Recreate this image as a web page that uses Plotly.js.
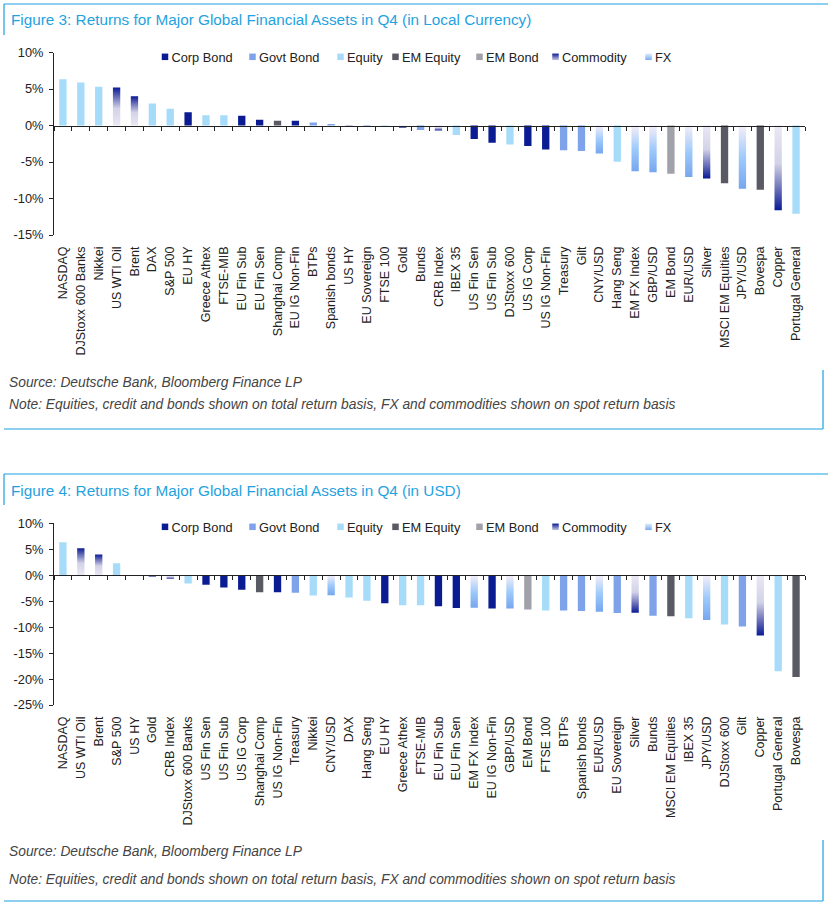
<!DOCTYPE html>
<html><head><meta charset="utf-8">
<script src="https://cdn.plot.ly/plotly-3.0.1.min.js"></script>
<style>html,body{margin:0;padding:0;background:#fff;}#chart{width:828px;height:909px;}</style>
</head><body><div id="chart"></div>
<script>
// ---------- DATA ----------
const assetClasses = ['Corp Bond','Govt Bond','Equity','EM Equity','EM Bond','Commodity','FX'];

const categoriesLocal = ['NASDAQ','DJStoxx 600 Banks','Nikkei','US WTI Oil','Brent','DAX','S&P 500','EU HY','Greece Athex','FTSE-MIB','EU Fin Sub','EU Fin Sen','Shanghai Comp','EU IG Non-Fin','BTPs','Spanish bonds','US HY','EU Sovereign','FTSE 100','Gold','Bunds','CRB Index','IBEX 35','US Fin Sen','US Fin Sub','DJStoxx 600','US IG Corp','US IG Non-Fin','Treasury','Gilt','CNY/USD','Hang Seng','EM FX Index','GBP/USD','EM Bond','EUR/USD','Silver','MSCI EM Equities','JPY/USD','Bovespa','Copper','Portugal General'];
const valuesLocal = [6.35,5.9,5.3,5.2,4.0,3.0,2.3,1.8,1.4,1.4,1.35,0.8,0.65,0.65,0.4,0.2,0.05,-0.1,-0.15,-0.35,-0.6,-0.7,-1.3,-1.85,-2.35,-2.6,-2.8,-3.3,-3.4,-3.5,-3.85,-4.95,-6.25,-6.4,-6.6,-7.05,-7.25,-7.9,-8.65,-8.8,-11.6,-12.1];
const classesLocal = ['Equity','Equity','Equity','Commodity','Commodity','Equity','Equity','Corp Bond','Equity','Equity','Corp Bond','Corp Bond','EM Equity','Corp Bond','Govt Bond','Govt Bond','Corp Bond','Govt Bond','Equity','Commodity','Govt Bond','Commodity','Equity','Corp Bond','Corp Bond','Equity','Corp Bond','Corp Bond','Govt Bond','Govt Bond','FX','Equity','FX','FX','EM Bond','FX','Commodity','EM Equity','FX','EM Equity','Commodity','Equity'];

const categoriesUSD = ['NASDAQ','US WTI Oil','Brent','S&P 500','US HY','Gold','CRB Index','DJStoxx 600 Banks','US Fin Sen','US Fin Sub','US IG Corp','Shanghai Comp','US IG Non-Fin','Treasury','Nikkei','CNY/USD','DAX','Hang Seng','EU HY','Greece Athex','FTSE-MIB','EU Fin Sub','EU Fin Sen','EM FX Index','EU IG Non-Fin','GBP/USD','EM Bond','FTSE 100','BTPs','Spanish bonds','EUR/USD','EU Sovereign','Silver','Bunds','MSCI EM Equities','IBEX 35','JPY/USD','DJStoxx 600','Gilt','Copper','Portugal General','Bovespa'];
const valuesUSD = [6.35,5.2,4.0,2.3,0.05,-0.35,-0.7,-1.6,-1.85,-2.35,-2.8,-3.3,-3.3,-3.4,-3.9,-3.85,-4.3,-4.9,-5.4,-5.8,-5.8,-6.0,-6.3,-6.25,-6.4,-6.4,-6.6,-6.8,-6.8,-6.9,-7.05,-7.3,-7.25,-7.8,-7.9,-8.3,-8.65,-9.5,-9.9,-11.6,-18.5,-19.6];
const classesUSD = ['Equity','Commodity','Commodity','Equity','Corp Bond','Commodity','Commodity','Equity','Corp Bond','Corp Bond','Corp Bond','EM Equity','Corp Bond','Govt Bond','Equity','FX','Equity','Equity','Corp Bond','Equity','Equity','Corp Bond','Corp Bond','FX','Corp Bond','FX','EM Bond','Equity','Govt Bond','Govt Bond','FX','Govt Bond','Commodity','Govt Bond','EM Equity','Equity','FX','Equity','Govt Bond','Commodity','Equity','EM Equity'];

const yTickValsLocal = [-15,-10,-5,0,5,10];
const yTickTextLocal = ['-15%','-10%','-5%','0%','5%','10%'];
const yTickValsUSD = [-25,-20,-15,-10,-5,0,5,10];
const yTickTextUSD = ['-25%','-20%','-15%','-10%','-5%','0%','5%','10%'];

const titleLocal = 'Figure 3: Returns for Major Global Financial Assets in Q4 (in Local Currency)';
const titleUSD = 'Figure 4: Returns for Major Global Financial Assets in Q4 (in USD)';
const sourceText = 'Source: Deutsche Bank, Bloomberg Finance LP';
const noteText = 'Note: Equities, credit and bonds shown on total return basis, FX and commodities shown on spot return basis';

// ---------- STYLE ----------
const classColors = {
  'Corp Bond':'#0b1c93','Govt Bond':'#7ea3ea','Equity':'#a6dcf9',
  'EM Equity':'#5a5a64','EM Bond':'#a1a1a9','Commodity':'#2a3aa4','FX':'#86b8f6'
};
const gradStops = {
  'Commodity':[[0,'#ebe8f4'],[0.45,'#d2d2e8'],[0.75,'#6a70b8'],[1,'#0a1a96']],
  'FX':[[0,'#f6eef8'],[0.5,'#9fcbfb'],[1,'#76a6ee']]
};
const legendKeyPx = [165, 252.5, 340.5, 395.5, 479.5, 555.5, 648.5]; // legend key centres (px)
const legendTextGap = 6.5;
const W = 828, H = 909;
const fx = px => px / W;
const fy = py => 1 - py / H;
const FONT = 'Liberation Sans, Arial, sans-serif';
const AX = '#222';
const BOX = '#1aa0e0';

const data = [];
function addChart(cats, vals, classes, xa, xa2, ya, legendId) {
  const xName = xa.replace('axis',''), x2Name = xa2.replace('axis',''), yName = ya.replace('axis','');
  assetClasses.forEach(cls => {
    const xs = [], ys = [];
    cats.forEach((c, i) => { if (classes[i] === cls) { xs.push(c); ys.push(vals[i]); } });
    data.push({type:'bar', name:cls, x:xs, y:ys, xaxis:xName, yaxis:yName, width:0.41,
      marker:{color:classColors[cls], line:{width:0}}, showlegend:false, hoverinfo:'skip'});
  });
  data.push({type:'bar', x:cats, y:cats.map(() => null), xaxis:x2Name, yaxis:yName, showlegend:false, hoverinfo:'skip'});
  assetClasses.forEach(cls => {
    const m = {symbol:'square', size:6.5, color:classColors[cls], line:{width:0}};
    if (cls === 'Commodity') { m.color = '#0a1a96'; m.gradient = {type:'vertical', color:'#c4c4e2'}; }
    if (cls === 'FX') { m.color = '#dcecfc'; m.gradient = {type:'vertical', color:'#78aaf2'}; }
    data.push({type:'scatter', mode:'markers', name:cls, x:[cats[0]], y:[null], xaxis:xName, yaxis:yName,
      marker:m, legend:legendId, showlegend:true, hoverinfo:'skip'});
  });
}
addChart(categoriesLocal, valuesLocal, classesLocal, 'xaxis', 'xaxis2', 'yaxis', 'legend');
addChart(categoriesUSD, valuesUSD, classesUSD, 'xaxis3', 'xaxis4', 'yaxis2', 'legend2');

function zeroPos(dom, rng) { return dom[0] + (dom[1] - dom[0]) * (0 - rng[0]) / (rng[1] - rng[0]); }

const dom1 = [fy(235), fy(52.5)], rng1 = [-15, 10];
const dom2 = [fy(705), fy(523.3)], rng2 = [-25, 10];
const xdom = [fx(54), fx(805)];

function labelAxis(cats, yId) {
  return {domain:xdom, anchor:yId, type:'category', categoryorder:'array', categoryarray:cats,
    range:[-0.5, cats.length - 0.5], tickangle:-90, ticks:'', showline:false, showgrid:false, zeroline:false,
    tickfont:{family:FONT, size:12.5, color:AX}, ticklabelstandoff:8, fixedrange:true};
}
function zeroAxis(cats, base, pos) {
  return {overlaying:base, anchor:'free', position:pos, type:'category', categoryorder:'array', categoryarray:cats,
    range:[-0.5, cats.length - 0.5], showline:true, linecolor:AX, linewidth:1, ticks:'outside', tickson:'boundaries',
    ticklen:4, tickwidth:1, tickcolor:AX, showticklabels:false, showgrid:false, zeroline:false, fixedrange:true};
}
function valueAxis(dom, rng, tv, tt, xId) {
  return {domain:dom, anchor:xId, range:rng, tickvals:tv, ticktext:tt, showline:true, linecolor:AX, linewidth:1,
    ticks:'outside', ticklen:4, tickcolor:AX, showgrid:false, zeroline:false,
    tickfont:{family:FONT, size:12.8, color:AX}, ticklabelstandoff:3, fixedrange:true};
}
function legendObj(ytop) {
  return {orientation:'h', x:fx(152), y:fy(ytop), xanchor:'left', yanchor:'top', bgcolor:'rgba(0,0,0,0)',
    font:{family:FONT, size:12.8, color:AX}, itemwidth:30, traceorder:'normal', tracegroupgap:0};
}

const boxLine = (x0,y0,x1,y1) => ({type:'line', xref:'paper', yref:'paper', x0:fx(x0), y0:fy(y0), x1:fx(x1), y1:fy(y1), line:{color:BOX, width:1.2}});
const shapes = [
  boxLine(4,4,828,4), boxLine(4,4,4,35), boxLine(4,429,823,429), boxLine(823,370,823,429),
  boxLine(4,474,828,474), boxLine(4,474,4,505), boxLine(4,901,823,901), boxLine(823,840,823,901)
];
const ann = (text, x, y, size, color, italic) => ({text: italic ? '<i>' + text + '</i>' : text, xref:'paper', yref:'paper',
  x:fx(x), y:fy(y), xanchor:'left', yanchor:'middle', showarrow:false, font:{family:FONT, size:size, color:color}});
const annotations = [
  ann(titleLocal, 9, 20, 15.3, '#1fa2df', false),
  ann(sourceText, 7, 382, 13.8, '#444', true),
  ann(noteText, 7, 404, 13.8, '#444', true),
  ann(titleUSD, 9, 490, 15.3, '#1fa2df', false),
  ann(sourceText, 7, 851, 13.8, '#444', true),
  ann(noteText, 7, 879, 13.8, '#444', true)
];

const layout = {
  width:W, height:H, margin:{l:0, r:0, t:0, b:0}, paper_bgcolor:'#fff', plot_bgcolor:'rgba(0,0,0,0)',
  font:{family:FONT, color:AX}, barmode:'overlay', showlegend:true,
  xaxis:labelAxis(categoriesLocal, 'y'),
  xaxis2:zeroAxis(categoriesLocal, 'x', zeroPos(dom1, rng1)),
  yaxis:valueAxis(dom1, rng1, yTickValsLocal, yTickTextLocal, 'x'),
  xaxis3:labelAxis(categoriesUSD, 'y2'),
  xaxis4:zeroAxis(categoriesUSD, 'x3', zeroPos(dom2, rng2)),
  yaxis2:valueAxis(dom2, rng2, yTickValsUSD, yTickTextUSD, 'x3'),
  legend:legendObj(42), legend2:legendObj(512),
  shapes:shapes, annotations:annotations
};

function applyGradients(gd) {
  const NS = 'http://www.w3.org/2000/svg';
  const svg = gd.querySelector('.main-svg');
  let defs = svg.querySelector('defs');
  if (!defs) { defs = document.createElementNS(NS, 'defs'); svg.insertBefore(defs, svg.firstChild); }
  Object.keys(gradStops).forEach(key => {
    ['up','down'].forEach(dir => {
      const id = 'grad-' + key + '-' + dir;
      if (document.getElementById(id)) return;
      const g = document.createElementNS(NS, 'linearGradient');
      g.setAttribute('id', id);
      g.setAttribute('x1','0'); g.setAttribute('x2','0');
      g.setAttribute('y1', dir === 'up' ? '1' : '0'); g.setAttribute('y2', dir === 'up' ? '0' : '1');
      gradStops[key].forEach(([o, c]) => {
        const s = document.createElementNS(NS, 'stop');
        s.setAttribute('offset', o); s.setAttribute('stop-color', c);
        g.appendChild(s);
      });
      defs.appendChild(g);
    });
  });
  gd.querySelectorAll('.barlayer .trace.bars').forEach(tg => {
    const cd = tg.__data__;
    const tr = cd && cd[0] && cd[0].trace;
    if (!tr || !gradStops[tr.name]) return;
    tg.querySelectorAll('.point').forEach(p => {
      const pt = p.__data__;
      const path = p.querySelector('path');
      if (!pt || !path) return;
      const v = (pt.s !== undefined) ? pt.s : tr.y[pt.i];
      const want = 'url("#grad-' + tr.name + '-' + (v >= 0 ? 'up' : 'down') + '")';
      if (path.style.fill !== want) path.style.fill = want;
    });
  });
}

// compact legend spacing like the original
function compactLegends(gd) {
  gd.querySelectorAll('g.traces').forEach(item => {
    const txt = item.querySelector('text');
    if (!txt) return;
    const k = assetClasses.indexOf(txt.textContent.trim());
    if (k < 0) return;
    // union of the visible key marks (paths) of this item
    let l = Infinity, rr = -Infinity;
    item.querySelectorAll('path').forEach(p => {
      const b = p.getBoundingClientRect();
      if (b.width > 0 && b.width < 20) { l = Math.min(l, b.left); rr = Math.max(rr, b.right); }
    });
    if (!isFinite(l)) return;
    const dx = legendKeyPx[k] - (l + rr) / 2;
    const m = /translate\(\s*([-\d.e]+)[ ,]+([-\d.e]+)\s*\)/.exec(item.getAttribute('transform') || '');
    if (m && Math.abs(dx) > 0.2) item.setAttribute('transform', 'translate(' + (parseFloat(m[1]) + dx) + ',' + m[2] + ')');
    const tr = txt.getBoundingClientRect();
    const tdx = legendKeyPx[k] + legendTextGap - tr.left;
    if (Math.abs(tdx) > 0.2) txt.setAttribute('x', parseFloat(txt.getAttribute('x') || 0) + tdx);
  });
}

function finish(gd) { applyGradients(gd); compactLegends(gd); }

Plotly.newPlot('chart', data, layout, {displayModeBar:false, staticPlot:true}).then(gd => {
  finish(gd);
  gd.on('plotly_afterplot', () => finish(gd));
  requestAnimationFrame(() => finish(gd));
  setTimeout(() => finish(gd), 100);
});
</script>
</body></html>
